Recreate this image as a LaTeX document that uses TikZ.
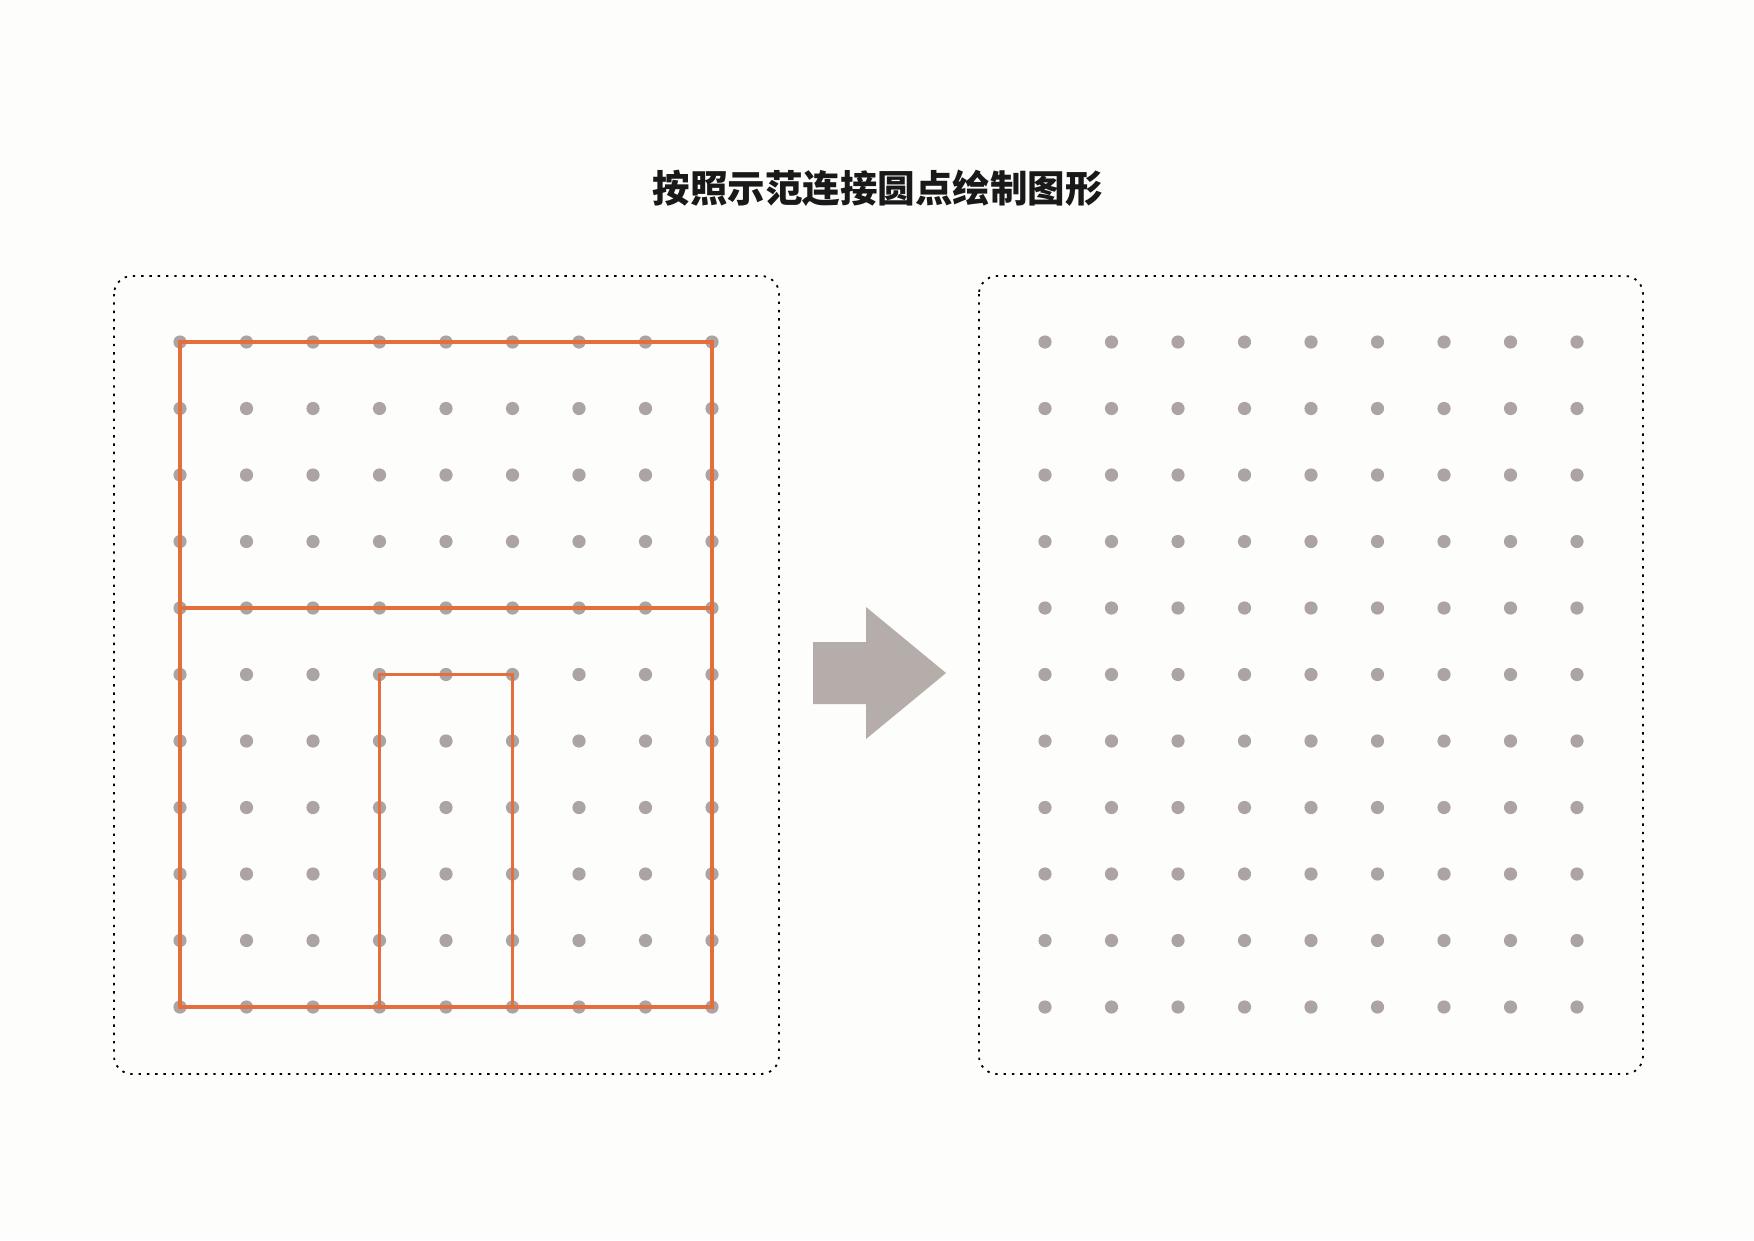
\documentclass[tikz,border=0pt]{standalone}
\usepackage{fontspec}
\newfontfamily\cjk{Noto Sans CJK SC}
\definecolor{bgcol}{RGB}{253,253,251}
\definecolor{dotgray}{RGB}{172,164,164}
\definecolor{arrowgray}{RGB}{180,173,169}
\definecolor{lineorange}{RGB}{227,112,60}
\begin{document}
\begin{tikzpicture}[x=1pt,y=-1pt,
  panel/.style={draw=black,line width=1.8pt,dash pattern=on 2.4pt off 5.9pt,rounded corners=18pt},
  griddot/.style={fill=dotgray},
  shapeline/.style={draw=lineorange,line width=3.6pt,line join=miter},
  bigarrow/.style={fill=arrowgray},
  titletext/.style={font=\cjk\bfseries\fontsize{37.5pt}{40pt}\selectfont,text=black!90,inner sep=0pt}]
\fill[bgcol] (0,0) rectangle (1754,1240);
\useasboundingbox (0,0) rectangle (1754,1240);
% title
\node[titletext] (title) at (877.5,188) {按照示范连接圆点绘制图形};
% panels
\draw[panel] (114,276) rectangle (779,1074);
\draw[panel] (979,276) rectangle (1643,1074);
% grid coordinates
\foreach \i in {0,...,8}{
  \foreach \j in {0,...,10}{
    \coordinate (L-\i-\j) at ({180+66.5*\i},{342+66.5*\j});
    \coordinate (R-\i-\j) at ({1045+66.5*\i},{342+66.5*\j});
  }
}
% dots
\foreach \i in {0,...,8}{
  \foreach \j in {0,...,10}{
    \fill[griddot] (L-\i-\j) circle (6.6pt);
    \fill[griddot] (R-\i-\j) circle (6.6pt);
  }
}
% example shape
\draw[shapeline] (L-0-0) rectangle (L-8-10);
\draw[shapeline] (L-0-4) -- (L-8-4);
\draw[shapeline] (L-3-10) -- (L-3-5) -- (L-5-5) -- (L-5-10);
% arrow
\coordinate (arrowtip) at (946,673);
\fill[bigarrow] (813,642) -- (866,642) -- (866,607) -- (arrowtip) -- (866,739) -- (866,704) -- (813,704) -- cycle;
\end{tikzpicture}
\end{document}
